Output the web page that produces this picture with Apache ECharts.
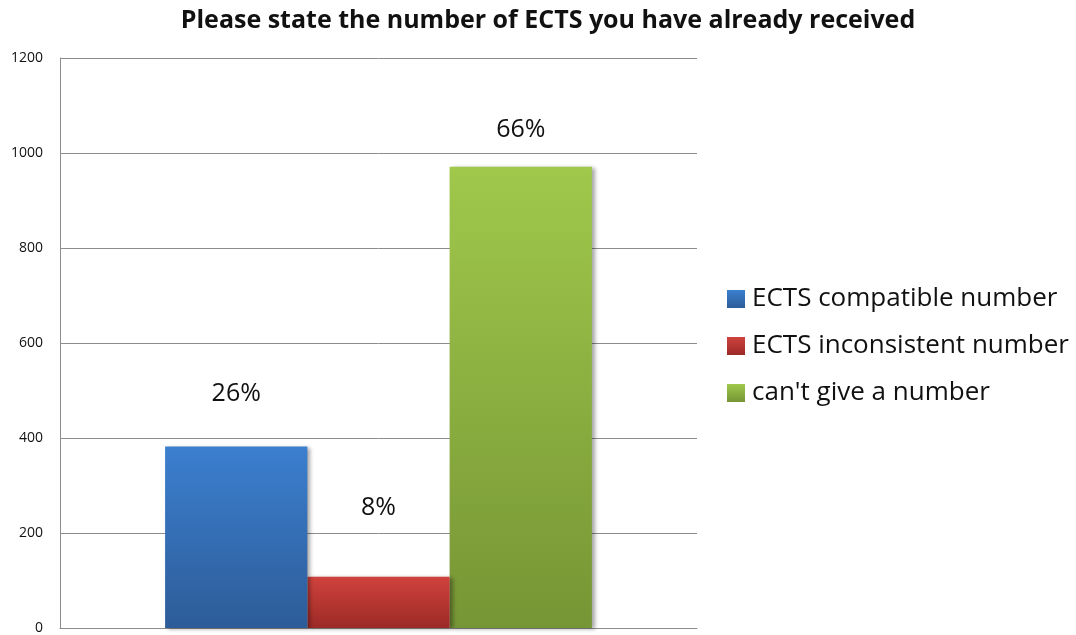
<!DOCTYPE html>
<html>
<head>
<meta charset="utf-8">
<style>
  html, body { margin: 0; padding: 0; background: #fff; }
  #chart { width: 1076px; height: 635px; }
</style>
<script src="https://cdn.jsdelivr.net/npm/echarts@6/dist/echarts.min.js"></script>
</head>
<body>
<div id="chart"></div>
<script>
// Survey answers: counts of respondents per answer type
const categories = ['ECTS'];
const seriesNames = ['ECTS compatible number', 'ECTS inconsistent number', "can't give a number"];
const counts = [382, 108, 971];
const percentLabels = ['26%', '8%', '66%'];
const yTicks = { min: 0, max: 1200, interval: 200 };

// Top/bottom colours for each bar's vertical gradient
const gradients = [
  ['#3b7fcf', '#2d5c98'],
  ['#d0423d', '#9c2a27'],
  ['#a0c84b', '#769535']
];
const labelDistance = [40, 56, 24];
const font = "'Open Sans', 'Noto Sans', sans-serif";

const chart = echarts.init(document.getElementById('chart'));

const series = seriesNames.map((name, i) => ({
  name: name,
  type: 'bar',
  barGap: '0%',
  barCategoryGap: '33%',
  data: [counts[i]],
  itemStyle: {
    color: new echarts.graphic.LinearGradient(0, 0, 0, 1, [
      { offset: 0, color: gradients[i][0] },
      { offset: 1, color: gradients[i][1] }
    ]),
    shadowColor: 'rgba(0,0,0,0.35)',
    shadowBlur: 4,
    shadowOffsetX: 3,
    shadowOffsetY: 1
  },
  label: {
    show: true,
    position: 'top',
    distance: labelDistance[i],
    formatter: () => percentLabels[i],
    fontFamily: font,
    fontSize: 25,
    color: '#111'
  },
  emphasis: { disabled: true },
  z: 3 - i
}));

chart.setOption({
  animation: false,
  title: {
    text: 'Please state the number of ECTS you have already received',
    left: 543,
    textAlign: 'center',
    top: 3,
    textStyle: { fontFamily: font, fontSize: 25, fontWeight: 'bold', color: '#111' }
  },
  legend: {
    orient: 'vertical',
    left: 727,
    top: 286,
    padding: 0,
    itemWidth: 18,
    itemHeight: 18,
    itemGap: 21,
    icon: 'rect',
    textStyle: { fontFamily: font, fontSize: 26, color: '#111', padding: [0, 0, 0, 2] },
    data: seriesNames
  },
  grid: { left: 60, right: 379, top: 58, bottom: 4.5, containLabel: false },
  xAxis: {
    type: 'category',
    data: categories,
    axisLine: { lineStyle: { color: '#8c8c8c', width: 1 } },
    axisTick: { show: false },
    axisLabel: { show: false }
  },
  yAxis: {
    type: 'value',
    min: yTicks.min,
    max: yTicks.max,
    interval: yTicks.interval,
    axisLine: { show: true, lineStyle: { color: '#8c8c8c', width: 1 } },
    axisTick: { show: false },
    axisLabel: {
      fontFamily: font,
      fontSize: 14,
      color: '#111',
      margin: 17,
      formatter: (v) => String(v)
    },
    splitLine: { lineStyle: { color: '#8c8c8c', width: 1 } }
  },
  series: series
});
</script>
</body>
</html>
